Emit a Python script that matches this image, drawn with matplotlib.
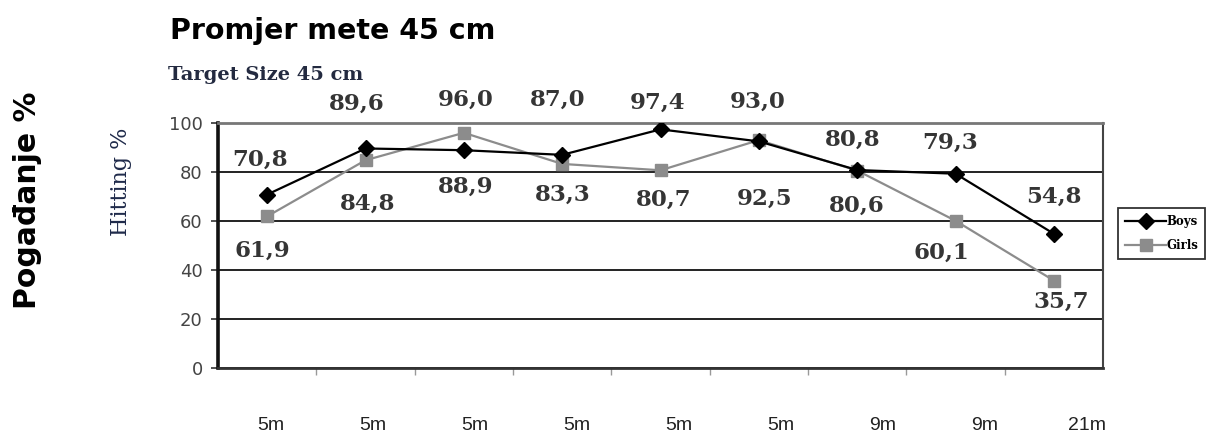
import numpy as np
import matplotlib
matplotlib.use("Agg")
import matplotlib.pyplot as plt
from matplotlib.transforms import blended_transform_factory

# ---- data ----
distances = ["5m", "5m", "5m", "5m", "5m", "5m", "9m", "9m", "21m"]
boys = [70.8, 89.6, 88.9, 87.0, 97.4, 92.5, 80.8, 79.3, 54.8]
girls = [61.9, 84.8, 96.0, 83.3, 80.7, 93.0, 80.6, 60.1, 35.7]
y_ticks = [0, 20, 40, 60, 80, 100]
series_names = ["Boys", "Girls"]

title_hr = "Promjer mete 45 cm"
title_en = "Target Size 45 cm"
ylabel_hr = "Pogađanje %"
ylabel_en = "Hitting %"

# label offsets (points) relative to each marker
boys_off = [(-5, 25), (-6, 32), (1.5, -26), (-3, 39.5), (-2, 19.5),
            (4, -41), (-3.5, 22), (-4, 22), (0, 26.5)]
girls_off = [(-3.5, -24.5), (1.5, -31.5), (1.5, 23.5), (0.5, -22), (2, -21.5),
             (-0.5, 27.5), (0, -25.5), (-10, -23), (5, -15.5)]

W, H = 1212, 436
fig = plt.figure(figsize=(W / 100, H / 100), dpi=100)
fig.patch.set_facecolor("white")

ax = fig.add_axes([218 / W, 1 - 368 / H, (1103 - 218) / W, (368 - 123) / H])
x = np.arange(len(boys))
ax.set_xlim(-0.5, len(boys) - 0.5)
ax.set_ylim(0, 100)
ax.set_yticks(y_ticks)
ax.set_yticklabels([str(t) for t in y_ticks])
ax.set_xticks(np.arange(0.5, len(boys) - 1, 1))
ax.set_xticklabels([])
ax.set_axisbelow(True)
ax.yaxis.grid(True, color="#222222", lw=1.4)
ax.xaxis.grid(False)

for s, c, lw in [("left", "#111111", 2.6), ("bottom", "#333333", 2.0),
                 ("right", "#444444", 1.5), ("top", "#777777", 2.0)]:
    ax.spines[s].set_color(c)
    ax.spines[s].set_linewidth(lw)

ax.tick_params(axis="y", direction="out", length=5, width=1.2, color="#333333",
               labelsize=13, labelcolor="#444444", pad=6)
ax.tick_params(axis="x", direction="out", length=5, width=1.0, color="#999999")
for lab in ax.get_yticklabels():
    lab.set_family("DejaVu Sans")

lb, = ax.plot(x, boys, color="black", lw=1.6, marker="D", ms=8, zorder=4,
              label=series_names[0])
lg, = ax.plot(x, girls, color="#8c8c8c", lw=1.6, marker="s", ms=9, zorder=3,
              label=series_names[1])

def fmt(v):
    return f"{v:.1f}".replace(".", ",")

for i, v in enumerate(boys):
    ax.annotate(fmt(v), (x[i], v), xytext=boys_off[i], textcoords="offset points",
                ha="center", va="center", fontsize=16.5, family="DejaVu Serif",
                weight="bold", color="#353535", annotation_clip=False)
for i, v in enumerate(girls):
    ax.annotate(fmt(v), (x[i], v), xytext=girls_off[i], textcoords="offset points",
                ha="center", va="center", fontsize=16.5, family="DejaVu Serif",
                weight="bold", color="#353535", annotation_clip=False)

# outer distance labels
ax2 = fig.add_axes([220 / W, 0.0, 918 / W, 0.01])
ax2.axis("off")
ax2.set_xlim(-0.5, len(distances) - 0.5)
tr = blended_transform_factory(ax2.transData, fig.transFigure)
for i, d in enumerate(distances):
    ax2.text(i, 1 - 425 / H, d, transform=tr, ha="center", va="center",
             fontsize=14, family="Liberation Sans", color="#222222")

# legend
leg = fig.legend([lb, lg], series_names, loc="upper left",
                 bbox_to_anchor=(1118 / W, 1 - 208 / H), bbox_transform=fig.transFigure,
                 frameon=True, fancybox=False, edgecolor="black",
                 prop=dict(family="DejaVu Serif", weight="bold", size=8.5),
                 handlelength=3.5, handletextpad=0.0, borderpad=0.6,
                 labelspacing=0.9, borderaxespad=0)
leg.get_frame().set_linewidth(1.3)

# titles
fig.text(170 / W, 1 - 39 / H, title_hr, fontsize=20.5, weight="bold",
         family="DejaVu Sans", ha="left", va="baseline", color="black")
fig.text(168 / W, 1 - 80 / H, title_en, fontsize=14, weight="bold",
         family="DejaVu Serif", ha="left", va="baseline", color="#232a40")
fig.text(121 / W, 1 - 182 / H, ylabel_en, rotation=90, fontsize=16,
         family="DejaVu Serif", ha="center", va="center", color="#1f2a4a")
fig.text(28 / W, 1 - 200 / H, ylabel_hr, rotation=90, fontsize=21.5, weight="bold",
         family="DejaVu Sans", ha="center", va="center", color="black")

fig.savefig("out.png", dpi=100)
